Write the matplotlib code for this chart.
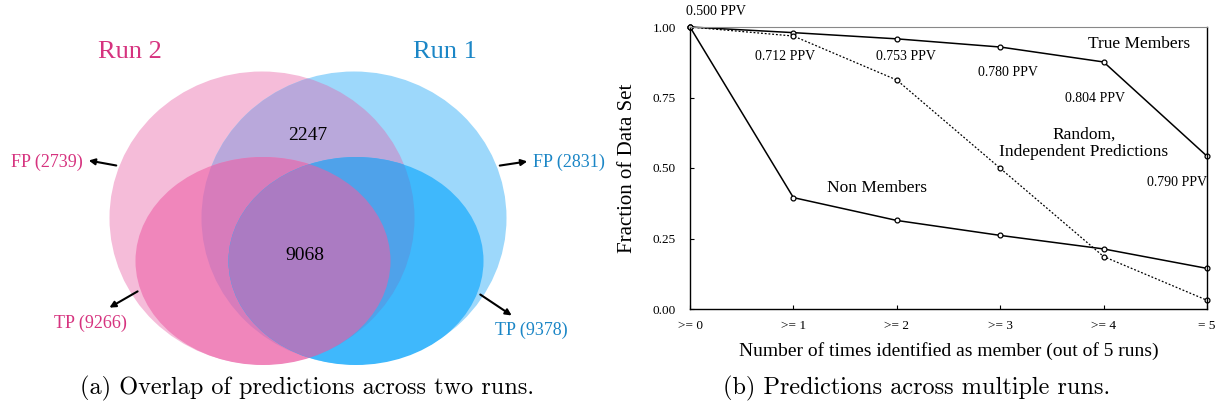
import matplotlib
matplotlib.use("Agg")
import matplotlib.pyplot as plt
from matplotlib.patches import Ellipse

plt.rcParams['font.family'] = ['Liberation Serif', 'DejaVu Serif']
plt.rcParams['axes.formatter.use_mathtext'] = True

# ---- data ----
run_names = ["Run 2", "Run 1"]
fp_counts = [2739, 2831]
tp_counts = [9266, 9378]
both_fp = 2247
both_tp = 9068

x_labels = [">= 0", ">= 1", ">= 2", ">= 3", ">= 4", "= 5"]
true_members = [1.0, 0.980, 0.958, 0.929, 0.876, 0.542]
non_members = [1.0, 0.395, 0.314, 0.261, 0.213, 0.144]
random_preds = [1.0, 0.968, 0.812, 0.499, 0.186, 0.031]
ppv = ["0.500", "0.712", "0.753", "0.780", "0.804", "0.790"]

pink = "#d6337f"
blue = "#1b86c6"

fig = plt.figure(figsize=(12.25, 4.09), dpi=100)

# ---- (a) venn diagram, drawn in pixel coords ----
ax1 = fig.add_axes([0, 0, 620 / 1225, 1])
ax1.set_xlim(0, 620)
ax1.set_ylim(409, 0)
ax1.axis("off")

big_p = (262, 218, 305, 293)
big_b = (354, 218, 305, 293)
small_p = (263, 261, 255, 208)
small_b = (356, 261, 255, 208)

def fill(shape, color, clip=None):
    e = Ellipse(shape[:2], shape[2], shape[3], facecolor=color, edgecolor="none")
    ax1.add_patch(e)
    if clip is not None:
        e.set_clip_path(Ellipse(clip[:2], clip[2], clip[3], transform=ax1.transData))

# each overlap region gets its own flat colour
fill(big_p, "#f5bcd9")
fill(big_b, "#9dd8fb")
fill(big_b, "#b9a8db", clip=big_p)
fill(small_p, "#f086bb")
fill(small_p, "#d77cbb", clip=big_b)
fill(small_b, "#3fb8fc")
fill(small_b, "#4fa2ea", clip=big_p)
fill(small_b, "#ab7bc2", clip=small_p)

ax1.text(130, 52, run_names[0], color=pink, fontsize=19, ha="center", va="center")
ax1.text(445, 52, run_names[1], color=blue, fontsize=19, ha="center", va="center")
ax1.text(308, 135, str(both_fp), fontsize=14, ha="center", va="center")
ax1.text(305, 255, str(both_tp), fontsize=14, ha="center", va="center")

arrow = dict(arrowstyle="-|>", color="black", lw=1.5, mutation_scale=9)
ax1.annotate("", xy=(86, 160), xytext=(119, 166), arrowprops=arrow)
ax1.text(83, 162, f"FP ({fp_counts[0]})", color=pink, fontsize=13, ha="right", va="center")
ax1.annotate("", xy=(530, 161), xytext=(497, 166), arrowprops=arrow)
ax1.text(533, 162, f"FP ({fp_counts[1]})", color=blue, fontsize=13, ha="left", va="center")
ax1.annotate("", xy=(107, 309), xytext=(140, 290), arrowprops=arrow)
ax1.text(90, 323, f"TP ({tp_counts[0]})", color=pink, fontsize=13, ha="center", va="center")
ax1.annotate("", xy=(514, 317), xytext=(478, 293), arrowprops=arrow)
ax1.text(531, 330, f"TP ({tp_counts[1]})", color=blue, fontsize=13, ha="center", va="center")

ax1.text(307, 388, "(a) Overlap of predictions across two runs.", family="cmr10",
         fontsize=17.5, ha="center", va="center")

# ---- (b) line chart ----
ax2 = fig.add_axes([690 / 1225, 100 / 409, 517 / 1225, 282 / 409])
xs = list(range(len(x_labels)))
mk = dict(marker="o", markersize=3.5, markerfacecolor="white", markeredgecolor="black",
          markeredgewidth=0.9, color="black", clip_on=False)
ax2.plot(xs, true_members, lw=1.1, **mk)
ax2.plot(xs, non_members, lw=1.1, **mk)
ax2.plot(xs, random_preds, lw=0.9, linestyle=(0, (1.5, 1.5)), **mk)

ax2.set_xlim(0, 5)
ax2.set_ylim(0, 1)
ax2.set_xticks(xs)
ax2.set_xticklabels(x_labels, fontsize=9.5)
ax2.set_yticks([0, 0.25, 0.5, 0.75, 1.0])
ax2.set_yticklabels(["0.00", "0.25", "0.50", "0.75", "1.00"], fontsize=9.5)
ax2.tick_params(direction="in", length=3, width=0.8, pad=8)
ax2.tick_params(axis="y", pad=10)
for s in ["left", "bottom", "right"]:
    ax2.spines[s].set_linewidth(1.0)
ax2.spines["top"].set_color("#888888")
ax2.set_xlabel("Number of times identified as member (out of 5 runs)", fontsize=14, labelpad=7)
ax2.set_ylabel("Fraction of Data Set", fontsize=15, labelpad=11)

ppv_pos = [(0.25, 1.055), (0.92, 0.894), (2.09, 0.894), (3.07, 0.84), (3.92, 0.745), (4.71, 0.447)]
for (px, py), v in zip(ppv_pos, ppv):
    ax2.text(px, py, f"{v} PPV", fontsize=10, ha="center", va="center", clip_on=False)

ax2.text(4.34, 0.94, "True Members", fontsize=12.5, ha="center", va="center")
ax2.text(3.81, 0.589, "Random,\nIndependent Predictions", fontsize=12.5, ha="center",
         va="center", linespacing=1.1)
ax2.text(1.81, 0.43, "Non Members", fontsize=12.5, ha="center", va="center")

fig.text(917 / 1225, 1 - 388 / 409, "(b) Predictions across multiple runs.", family="cmr10",
         fontsize=17.5, ha="center", va="center")

fig.savefig("out.png", dpi=100)
